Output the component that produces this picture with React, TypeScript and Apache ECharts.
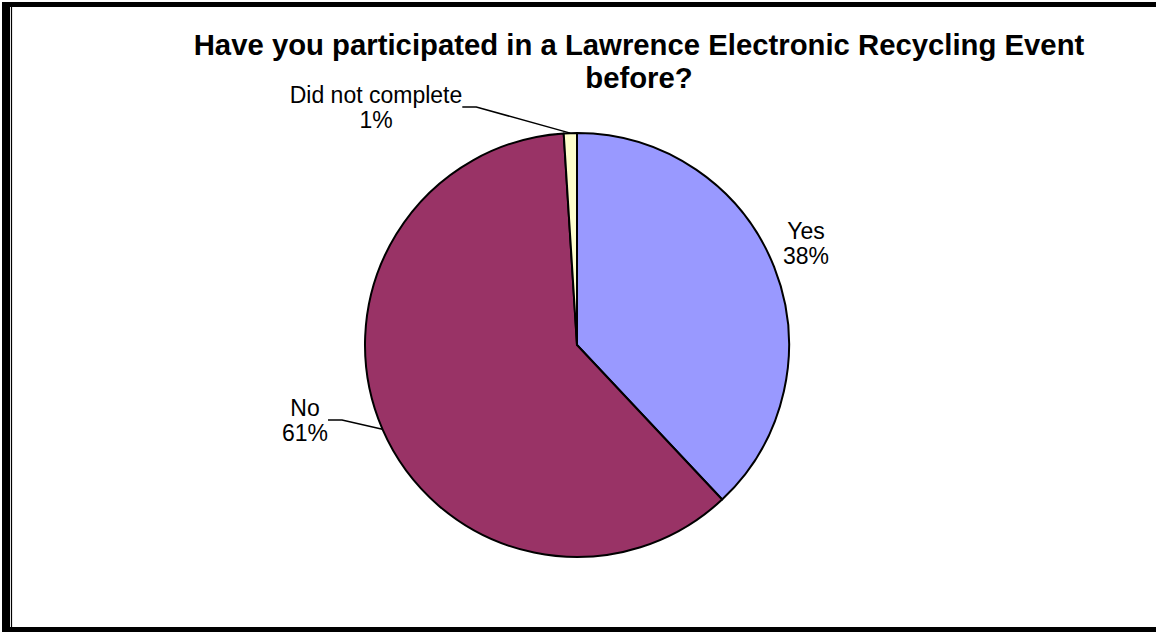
import React, { useEffect, useRef } from "react";
import * as echarts from "echarts";

const categories = ["Yes", "No", "Did not complete"];
const values = [38, 61, 1];
const colors = ["#9999FF", "#993366", "#FFFFCC"];
const titleLines = ["Have you participated in a Lawrence Electronic Recycling Event", "before?"];

const W = 1156;
const H = 632;
const CX = 577;
const CY = 345;
const R = 212;
const FONT = "'Liberation Sans', Arial, sans-serif";

// label anchor offsets relative to pie centre (layout only)
const labelOffsets = [
  { dx: 229, dy: -102 },
  { dx: -272, dy: 75 },
  { dx: -201, dy: -238 },
];

export default function App() {
  const ref = useRef<HTMLDivElement>(null);
  useEffect(() => {
    if (!ref.current) return;
    const chart = echarts.init(ref.current, null, { renderer: "svg" });
    chart.setOption({
      animation: false,
      backgroundColor: "#ffffff",
      graphic: [
        { type: "rect", shape: { x: 2, y: 2, width: 8, height: 630 }, style: { fill: "#000" }, z: 10 },
        { type: "rect", shape: { x: 2, y: 2, width: 1154, height: 5 }, style: { fill: "#000" }, z: 10 },
        { type: "rect", shape: { x: 2, y: 627, width: 1154, height: 5 }, style: { fill: "#000" }, z: 10 },
        { type: "line", shape: { x1: 11.5, y1: 7, x2: 11.5, y2: 627 }, style: { stroke: "#000", lineWidth: 1.2 }, z: 10 },
        {
          type: "text",
          x: 639,
          y: 28,
          style: {
            text: titleLines.join("\n"),
            fontFamily: FONT,
            fontWeight: "bold",
            fontSize: 29.3,
            lineHeight: 33,
            textAlign: "center",
            textVerticalAlign: "top",
            fill: "#000",
          },
        },
      ],
      series: [
        {
          type: "pie",
          center: [CX, CY],
          radius: [0, R],
          startAngle: 90,
          clockwise: true,
          avoidLabelOverlap: false,
          percentPrecision: 0,
          itemStyle: { borderColor: "#000", borderWidth: 2 },
          label: {
            show: true,
            position: "outside",
            formatter: "{b}\n{d}%",
            color: "#000",
            fontFamily: FONT,
            fontSize: 23,
            lineHeight: 25,
            align: "center",
          },
          labelLine: {
            show: true,
            length: 10,
            length2: 14,
            lineStyle: { color: "#000", width: 1.5 },
          },
          labelLayout: (params: any) => {
            const o = labelOffsets[params.dataIndex];
            return {
              x: CX + o.dx,
              y: CY + o.dy,
              align: "center",
              verticalAlign: "middle",
            };
          },
          emphasis: { disabled: true },
          data: categories.map((c, i) => ({
            name: c,
            value: values[i],
            itemStyle: { color: colors[i] },
            labelLine: { show: i !== 0 },
          })),
        },
      ],
    });
    return () => chart.dispose();
  }, []);
  return <div ref={ref} style={{ position: "fixed", left: 0, top: 0, width: W, height: H }} />;
}
